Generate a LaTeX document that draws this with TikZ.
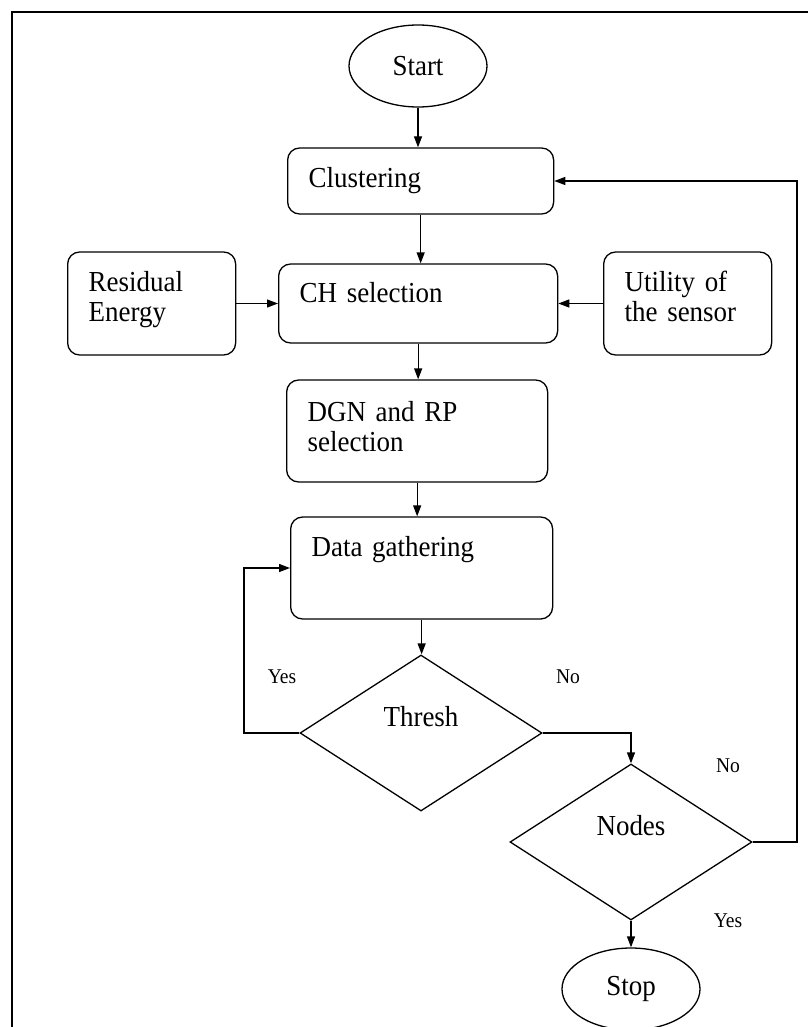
\documentclass[tikz,border=0pt]{standalone}
\usepackage{fontspec}
\setmainfont{Liberation Serif}[FakeStretch=0.93]
\usetikzlibrary{shapes.geometric,arrows.meta,calc}
\begin{document}
\begin{tikzpicture}[x=1pt,y=-1pt,
  line width=1.3pt,
  arr/.style={-{Triangle[length=11pt,width=8pt]}},
  boxbase/.style={draw, rounded corners=12pt, inner ysep=0pt, inner xsep=21pt, align=left, font=\fontsize{29}{30}\selectfont, anchor=base west},
  term/.style={draw, ellipse, minimum width=138pt, minimum height=82pt, inner sep=0pt, font=\fontsize{29}{30}\selectfont},
  dec/.style={draw, diamond, minimum width=242pt, minimum height=156pt, inner sep=0pt, font=\fontsize{29}{30}\selectfont, text height=10pt, text depth=24pt},
  lab/.style={font=\fontsize{21}{24}\selectfont, inner sep=0pt}
]
\useasboundingbox (0,0) rectangle (808,1027);
\draw[line width=1.5pt] (12,1027) -- (12,12) -- (808,12);

\node[term] (start) at (418,66) {Start};
\node[boxbase, text width=224pt, text height=39pt, text depth=27pt] (clu) at (287,187) {Clustering};
\node[boxbase, text width=237pt, text height=38pt, text depth=41pt] (ch) at (278,302) {CH selection};
\node[boxbase, text width=126pt, text height=39pt, text depth=64pt] (res) at (67,291) {Residual\\Energy};
\node[boxbase, text width=126pt, text height=39pt, text depth=64pt] (uti) at (603,291) {Utility of\\the sensor};
\node[boxbase, text width=219pt, text height=41pt, text depth=61pt] (dgn) at (286,421) {DGN and RP\\selection};
\node[boxbase, text width=220pt, text height=39pt, text depth=63pt] (dat) at (290,556) {Data gathering};
\node[dec] (thr) at (421,733) {Thresh};
\node[dec] (nod) at (631,842) {Nodes};
\node[term] (stop) at (631,989) {Stop};

\node[lab] (y1) at (282,677) {Yes};
\node[lab] (n1) at (568,677) {No};
\node[lab] (n2) at (728,766) {No};
\node[lab] (y2) at (728,921) {Yes};

\coordinate (yl) at (244,0);
\coordinate (rl) at (797,0);

\draw[arr] (start.south) -- (start.south |- clu.north);
\draw[arr] (clu.south) -- (clu.south |- ch.north);
\draw[arr] (res.east) -- (ch.west);
\draw[arr] (uti.west) -- (ch.east);
\draw[arr] (ch.south) -- (ch.south |- dgn.north);
\draw[arr] (dgn.south) -- (dgn.south |- dat.north);
\draw[arr] (dat.south) -- (dat.south |- thr.north);
\draw[arr] (thr.west) -- (thr.west -| yl) -- (yl |- dat.west) -- (dat.west);
\draw[arr] (thr.east) -| (nod.north);
\draw[arr] (nod.east) -- (nod.east -| rl) -- (rl |- clu.east) -- (clu.east);
\draw[arr] (nod.south) -- (stop.north);
\end{tikzpicture}
\end{document}
